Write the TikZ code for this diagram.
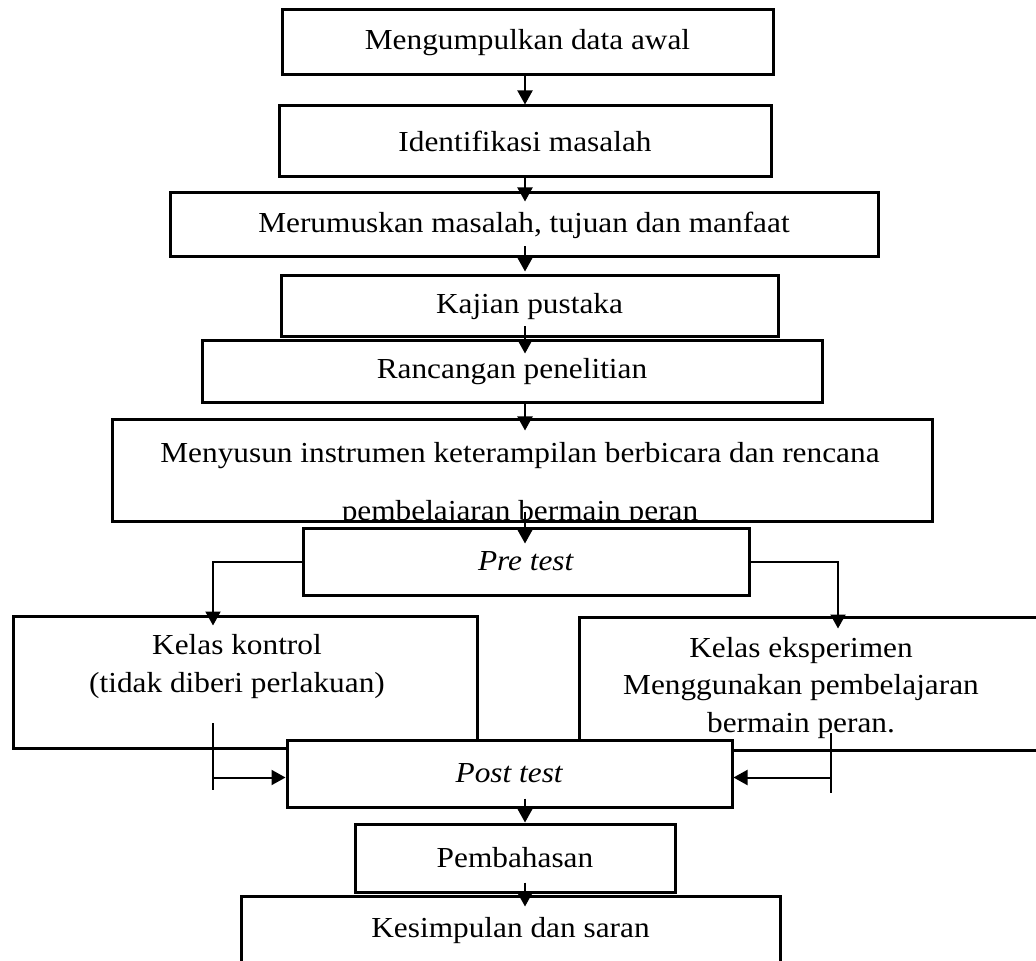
\documentclass[tikz,border=0pt]{standalone}
\usepackage{fontspec}
\setmainfont{Liberation Serif}[FakeStretch=1.08]
\usetikzlibrary{arrows.meta,calc}

\begin{document}
\begin{tikzpicture}[
		x=0.5pt, y=-0.5pt,
		font=\fontsize{14.5}{19}\selectfont,
		box/.style={draw,line width=1.5pt,fill=white,inner sep=0pt},
		boxsize/.style 2 args={minimum width=#1*0.5pt,minimum height=#2*0.5pt},
		arr/.style={-{Triangle[length=7pt,width=7.5pt]},line width=1pt},
		bar/.style={line width=1pt}
	]
	\path[use as bounding box,fill=white] (0,0) rectangle (1036,961);
	\coordinate (spine) at (525,0);

	% alur utama
	\node[box,boxsize={491}{65}] (awal) at (527.5,42.5) {Mengumpulkan data awal};
	\node[box,boxsize={492}{71}] (ident) at (525,141.5) {Identifikasi masalah};
	\node[box,boxsize={708}{64}] (rumus) at (524,225) {Merumuskan masalah, tujuan dan manfaat};
	\node[box,boxsize={497}{61}] (kajian) at (529.5,306.5) {Kajian pustaka};
	\node[box,boxsize={620}{62}] (rancang) at (512,372) {Rancangan penelitian};
	\node[box,boxsize={820}{101}] (susun) at (522,470.5) {};
	\begin{scope}
		\clip (susun.south west) rectangle (susun.north east);
		\node[align=center,font=\fontsize{14.5}{29}\selectfont] (susunteks) at (520,485)
			{Menyusun instrumen keterampilan berbicara dan rencana\\pembelajaran bermain peran};
	\end{scope}
	\node[box,boxsize={446}{67}] (pre) at (526,561.5) {\textit{Pre test}};

	% dua kelas
	\node[box,boxsize={464}{132}] (kontrol) at (245,682) {};
	\node[align=center] (kontrolteks) at (237,666.5) {Kelas kontrol\\(tidak diberi perlakuan)};
	\node[box,boxsize={466}{133}] (eksperimen) at (812,683.5) {};
	\node[align=center,font=\fontsize{14.5}{18.75}\selectfont] (eksperimenteks) at (801,688)
		{Kelas eksperimen\\Menggunakan pembelajaran\\bermain peran.};

	\node[box,boxsize={445}{67}] (post) at (509.5,773.5) {\textit{Post test}};
	\node[box,boxsize={320}{68}] (bahas) at (515,858) {Pembahasan};
	\node[box,boxsize={539}{70}] (simpul) at (510.5,931) {Kesimpulan dan saran};

	% panah
	\draw[arr] (awal.south -| spine) -- (ident.north -| spine);
	\draw[arr] (ident.south -| spine) -- ($(rumus.north -| spine)+(0,10)$);
	\draw[arr] ($(rumus.south -| spine)+(0,-12)$) -- ($(kajian.north -| spine)+(0,-3)$);
	\draw[arr] ($(kajian.south -| spine)+(0,-12)$) -- ($(rancang.north -| spine)+(0,14)$);
	\draw[arr] (rancang.south -| spine) -- ($(susun.north -| spine)+(0,12)$);
	\draw[arr] ($(susun.south -| spine)+(0,-11)$) -- ($(pre.north -| spine)+(0,17)$);
	\draw[arr] (pre.west) -| ($(kontrol.north)+(-32,11)$);
	\draw[arr] (pre.east) -| ($(eksperimen.north)+(26,13)$);

	\coordinate (kbartop) at (213,723);
	\coordinate (kbarbot) at (213,790);
	\coordinate (ebartop) at (831,733);
	\coordinate (ebarbot) at (831,793);
	\draw[bar] (kbartop) -- (kbarbot);
	\draw[bar] (ebartop) -- (ebarbot);
	\draw[arr] ($(kbartop |- post.west)+(0,4)$) -- ($(post.west)+(0,4)$);
	\draw[arr] ($(ebartop |- post.east)+(0,4)$) -- ($(post.east)+(0,4)$);

	\draw[arr] ($(post.south -| spine)+(0,-10)$) -- (bahas.north -| spine);
	\draw[arr] ($(bahas.south -| spine)+(0,-11)$) -- ($(simpul.north -| spine)+(0,12)$);
\end{tikzpicture}
\end{document}
